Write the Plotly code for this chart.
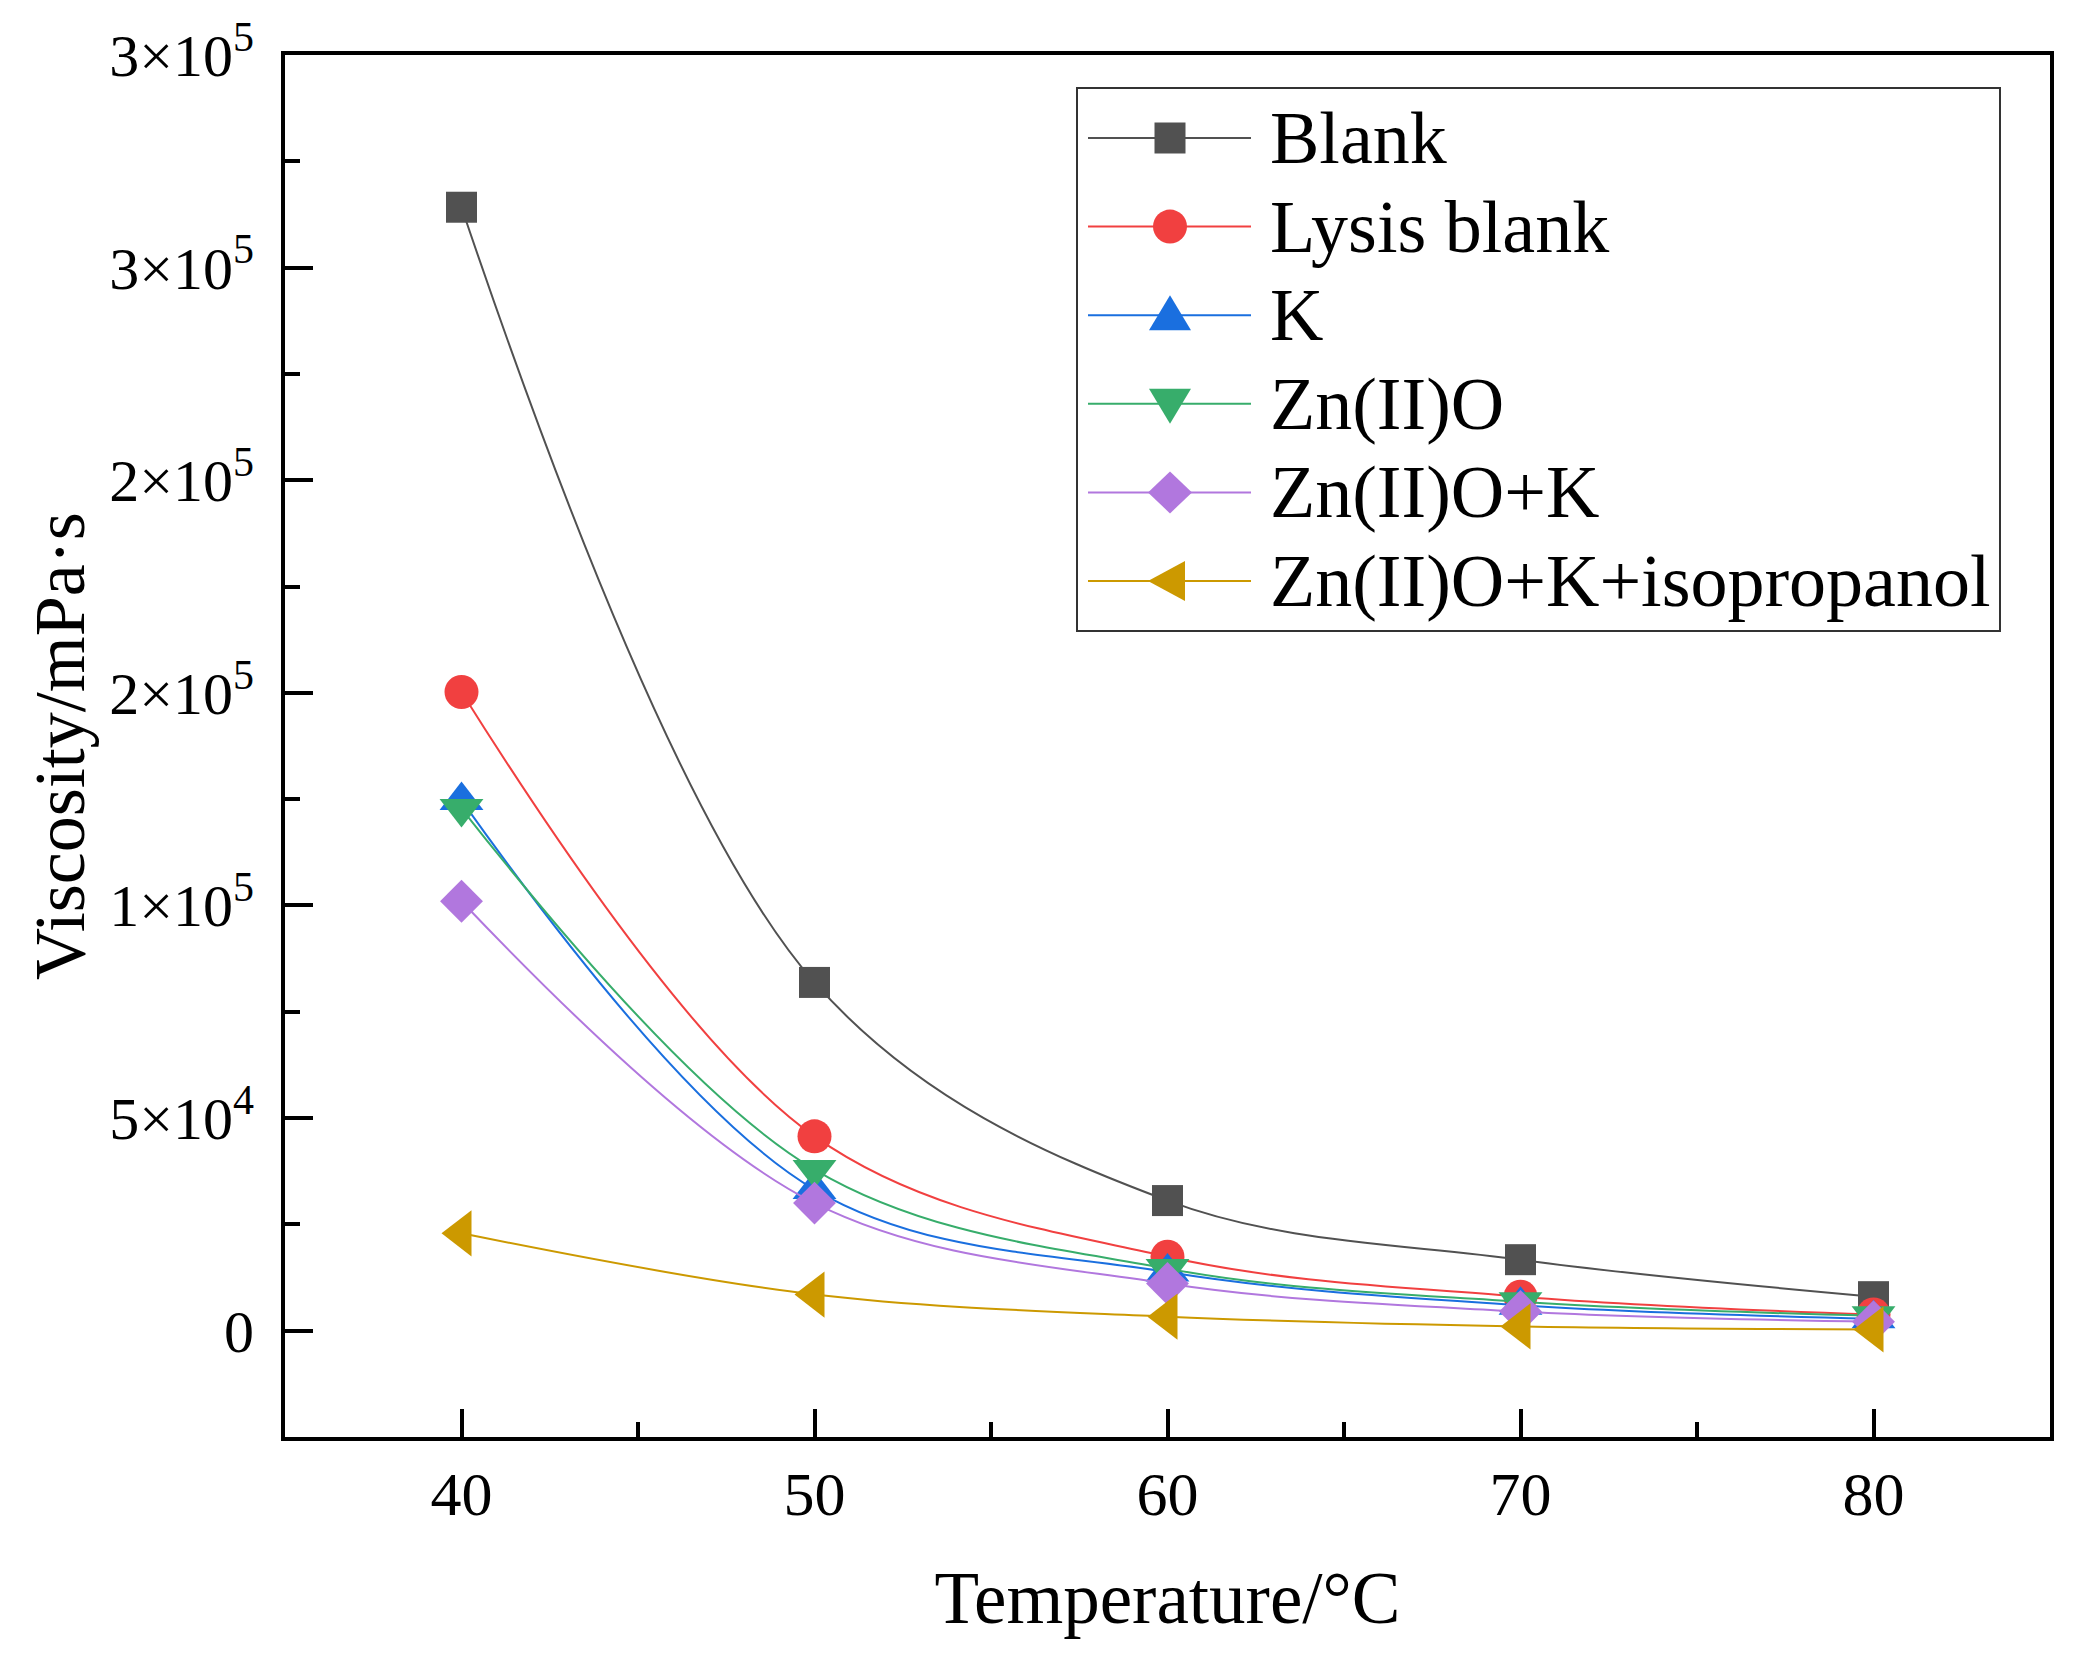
import plotly.graph_objects as go

# temperatures (°C)
temperature = [40, 50, 60, 70, 80]

# viscosity (mPa·s)
blank = [264200, 81900, 30600, 16700, 8000]
lysis_blank = [150200, 45700, 17400, 8000, 3800]
k = [124700, 33200, 13800, 6000, 2800]
zn_o = [122800, 37900, 14600, 6800, 3500]
zn_o_k = [101000, 30000, 11100, 4500, 2100]
zn_o_k_iso = [22900, 8500, 3300, 1000, 300]

series_names = ["Blank", "Lysis blank", "K", "Zn(II)O", "Zn(II)O+K",
                "Zn(II)O+K+isopropanol"]
series_values = [blank, lysis_blank, k, zn_o, zn_o_k, zn_o_k_iso]
colors = ["#515151", "#F14040", "#1A6FDF", "#37AD6B", "#B177DE", "#CC9900"]
symbols = ["square", "circle", "triangle-up", "triangle-down", "diamond",
           "triangle-left"]
sizes = [31, 34, 38, 38, 33, 40]

# y tick labels as printed on the original axis
y_tickvals = [0, 50000, 100000, 150000, 200000, 250000, 300000]
y_ticktext = ["0", "5×10<sup>4</sup>", "1×10<sup>5</sup>", "2×10<sup>5</sup>",
              "2×10<sup>5</sup>", "3×10<sup>5</sup>", "3×10<sup>5</sup>"]
y_minor = [-25000, 25000, 75000, 125000, 175000, 225000, 275000]

FONT = "Liberation Serif"
W, H = 2100, 1656
ML, MR, MT, MB = 285, 50, 55, 219
PW, PH = W - ML - MR, H - MT - MB


def px(x):
    # pixel x -> paper x
    return (x - ML) / PW


def py(y):
    # pixel y (from top) -> paper y
    return (H - MB - y) / PH


fig = go.Figure()
for name, vals, col, sym, sz in zip(series_names, series_values, colors, symbols, sizes):
    fig.add_trace(go.Scatter(
        x=temperature,
        y=vals,
        name=name,
        mode="lines+markers",
        line=dict(color=col, width=2, shape="spline", smoothing=1.0),
        marker=dict(symbol=sym, size=sz, color=col, line=dict(width=0)),
        showlegend=False,
    ))

# hand-drawn legend (plotly caps legend marker size, the original has big ones)
shapes = [dict(type="rect", xref="paper", yref="paper", layer="above",
               x0=px(1077), x1=px(2000), y0=py(88), y1=py(631),
               line=dict(color="#333333", width=2), fillcolor="white")]
annotations = []
row0, row_gap = 138, 88.6
mx = 1170
for i, (name, col, sym) in enumerate(zip(series_names, colors, symbols)):
    yc = row0 + i * row_gap
    shapes.append(dict(type="line", xref="paper", yref="paper", layer="above",
                       x0=px(1088), x1=px(1251), y0=py(yc), y1=py(yc),
                       line=dict(color=col, width=2)))
    if sym == "square":
        shapes.append(dict(type="rect", xref="paper", yref="paper", layer="above",
                           x0=px(mx - 15.5), x1=px(mx + 15.5),
                           y0=py(yc - 15.5), y1=py(yc + 15.5),
                           line=dict(width=0), fillcolor=col))
    elif sym == "circle":
        shapes.append(dict(type="circle", xref="paper", yref="paper", layer="above",
                           x0=px(mx - 17), x1=px(mx + 17),
                           y0=py(yc - 17), y1=py(yc + 17),
                           line=dict(width=0), fillcolor=col))
    else:
        if sym == "triangle-up":
            pts = [(mx - 21, yc + 15), (mx + 21, yc + 15), (mx, yc - 20)]
        elif sym == "triangle-down":
            pts = [(mx - 21, yc - 15), (mx + 21, yc - 15), (mx, yc + 20)]
        elif sym == "diamond":
            pts = [(mx - 22, yc), (mx, yc - 21), (mx + 22, yc), (mx, yc + 21)]
        else:
            pts = [(mx + 15, yc - 20), (mx + 15, yc + 20), (mx - 22, yc)]
        path = "M" + " L".join(f"{px(a):.5f},{py(b):.5f}" for a, b in pts) + " Z"
        shapes.append(dict(type="path", xref="paper", yref="paper", layer="above",
                           path=path, line=dict(width=0), fillcolor=col))
    annotations.append(dict(text=name, xref="paper", yref="paper",
                            x=px(1268), y=py(yc), xanchor="left", yanchor="middle",
                            showarrow=False,
                            font=dict(family=FONT, size=74, color="black")))

# y axis title placed by hand so it sits where the original has it
annotations.append(dict(text="Viscosity/mPa·s", xref="paper", yref="paper",
                        x=px(60), y=0.5, xanchor="center", yanchor="middle",
                        textangle=-90, showarrow=False,
                        font=dict(family=FONT, size=72, color="black")))

axis_common = dict(
    showline=True,
    linecolor="black",
    linewidth=4,
    mirror=True,
    showgrid=False,
    zeroline=False,
    ticks="inside",
    ticklen=28,
    tickwidth=4,
    tickcolor="black",
)

fig.update_layout(
    width=W,
    height=H,
    margin=dict(l=ML, r=MR, t=MT, b=MB),
    plot_bgcolor="white",
    paper_bgcolor="white",
    font=dict(family=FONT, color="black"),
    showlegend=False,
    shapes=shapes,
    annotations=annotations,
    xaxis=dict(
        axis_common,
        range=[35, 85],
        tickmode="array",
        tickvals=temperature,
        tickfont=dict(family=FONT, size=62, color="black"),
        ticklabelstandoff=0,
        minor=dict(ticks="inside", ticklen=15, tickwidth=4, tickcolor="black",
                   tickmode="array", tickvals=[45, 55, 65, 75]),
        title=dict(text="Temperature/°C", font=dict(family=FONT, size=73),
                   standoff=45),
    ),
    yaxis=dict(
        axis_common,
        range=[-25000, 300000],
        tickmode="array",
        tickvals=y_tickvals,
        ticktext=y_ticktext,
        tickfont=dict(family=FONT, size=60, color="black"),
        ticklabelstandoff=15,
        minor=dict(ticks="inside", ticklen=15, tickwidth=4, tickcolor="black",
                   tickmode="array", tickvals=y_minor),
    ),
)

fig.write_html("out.html", config={"displayModeBar": False},
               post_script="document.body.style.margin='0';")
